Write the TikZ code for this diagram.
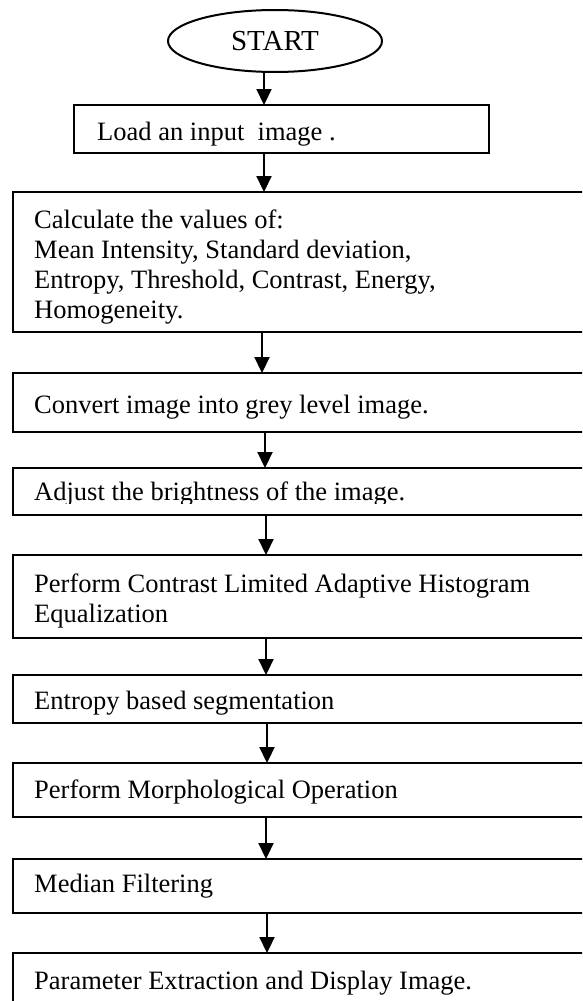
\documentclass[tikz,border=0pt]{standalone}
\usepackage{fontspec}
\setmainfont{Liberation Serif}
\usetikzlibrary{arrows.meta,shapes.geometric}
\begin{document}
\begin{tikzpicture}[x=1pt,y=-1pt,
  box/.style={draw, line width=2.2pt, rectangle, inner sep=0pt, outer sep=0pt, anchor=north west},
  term/.style={draw, line width=2pt, ellipse, minimum width=214pt, minimum height=62pt, inner sep=0pt, outer sep=0pt, font=\fontsize{29}{32}\selectfont},
  lbl/.style={inner sep=0pt, anchor=base west, font=\fontsize{26.5}{30}\selectfont},
  mlbl/.style={inner sep=0pt, anchor=north west, align=left, font=\fontsize{26.5}{30}\selectfont},
  arr/.style={line width=2.2pt, -{Triangle[length=16pt,width=15pt]}}
]
\path[use as bounding box] (0,0) rectangle (582,1001);
\clip (0,0) rectangle (582,1001);

% terminal
\node[term] (start) at (275,41) {START};

% boxes
\node[box, minimum width=415pt, minimum height=48pt] (load) at (74,105) {};
\node[box, minimum width=580pt, minimum height=140pt] (calc) at (13,192) {};
\node[box, minimum width=580pt, minimum height=59pt] (conv) at (13,373) {};
\node[box, minimum width=580pt, minimum height=47pt] (adj) at (13,468) {};
\node[box, minimum width=580pt, minimum height=83pt] (clahe) at (13,555) {};
\node[box, minimum width=580pt, minimum height=48pt] (ent) at (13,675) {};
\node[box, minimum width=580pt, minimum height=54pt] (morph) at (13,763) {};
\node[box, minimum width=580pt, minimum height=54pt] (med) at (13,859) {};
\node[box, minimum width=580pt, minimum height=70pt] (par) at (13,953) {};

% texts
\node[lbl] (tload) at (97,140) {Load an input\ \ image .};
\node[mlbl] (tcalc) at (34,210) {Calculate the values of:\\Mean Intensity, Standard deviation,\\Entropy, Threshold, Contrast, Energy,\\Homogeneity.};
\node[lbl] (tconv) at (34,413) {Convert image into grey level image.};
\begin{scope}
\clip (0,468) rectangle (582,503.5);
\node[lbl] (tadj) at (34,500) {Adjust the brightness of the image.};
\end{scope}
\node[mlbl] (tclahe) at (34,574) {Perform Contrast Limited Adaptive Histogram\\Equalization};
\node[lbl] (tent) at (34,709) {Entropy based segmentation};
\node[lbl] (tmorph) at (34,798) {Perform Morphological Operation};
\node[lbl] (tmed) at (34,892) {Median Filtering};
\node[lbl] (tpar) at (34,989) {Parameter Extraction and Display Image.};

% arrow columns
\coordinate (a1) at (264,0);
\coordinate (a2) at (264,0);
\coordinate (a3) at (262,0);
\coordinate (a4) at (265,0);
\coordinate (a5) at (266,0);
\coordinate (a6) at (266,0);
\coordinate (a7) at (267,0);
\coordinate (a8) at (266,0);
\coordinate (a9) at (267,0);

\draw[arr] (start.south -| a1) -- (load.north -| a1);
\draw[arr] (load.south -| a2) -- (calc.north -| a2);
\draw[arr] (calc.south -| a3) -- (conv.north -| a3);
\draw[arr] (conv.south -| a4) -- (adj.north -| a4);
\draw[arr] (adj.south -| a5) -- (clahe.north -| a5);
\draw[arr] (clahe.south -| a6) -- (ent.north -| a6);
\draw[arr] (ent.south -| a7) -- (morph.north -| a7);
\draw[arr] (morph.south -| a8) -- (med.north -| a8);
\draw[arr] (med.south -| a9) -- (par.north -| a9);
\end{tikzpicture}
\end{document}
